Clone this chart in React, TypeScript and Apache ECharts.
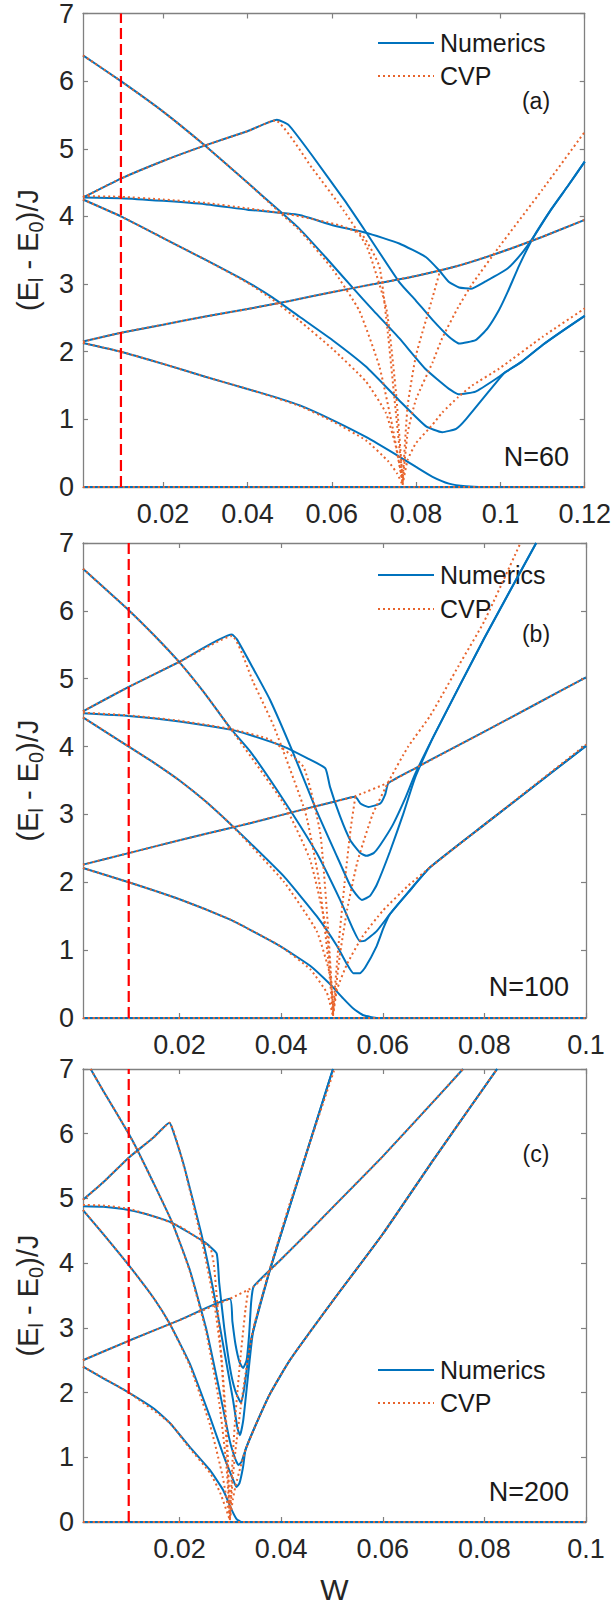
import React, { useEffect, useRef } from 'react';
import * as echarts from 'echarts';

// ---------- tick values ----------
const X_TICKS_A = [0.02, 0.04, 0.06, 0.08, 0.1, 0.12];
const X_TICKS_BC = [0.02, 0.04, 0.06, 0.08, 0.1];
const RED_W = 0.01;

// ---------- panel (a), N=60 : Numerics ----------
const A_E0 = [[0.001, 0], [0.12, 0]];
const A_E1 = [[0.001, 2.13], [0.01, 2.0], [0.02, 1.82], [0.03, 1.63], [0.04, 1.45], [0.046, 1.34], [0.0523, 1.21], [0.0602, 0.99], [0.0681, 0.74], [0.076, 0.45], [0.0799, 0.3], [0.0839, 0.15], [0.0878, 0.05], [0.0918, 0.01], [0.096, 0], [0.12, 0]];
const A_E2 = [[0.001, 2.15], [0.01, 2.28], [0.02, 2.4], [0.03, 2.52], [0.04, 2.63], [0.05, 2.75], [0.06, 2.88], [0.07, 3.0], [0.08, 3.12], [0.09, 3.27], [0.1, 3.47], [0.11, 3.7], [0.12, 3.95]];
const A_E3 = [[0.001, 4.28], [0.01, 4.56], [0.02, 4.82], [0.03, 5.05], [0.04, 5.26], [0.047, 5.43], [0.0498, 5.35], [0.055, 4.93], [0.063, 4.24], [0.0681, 3.77], [0.076, 3.03], [0.0799, 2.76], [0.0839, 2.47], [0.0878, 2.22], [0.0902, 2.12], [0.0941, 2.17], [0.097, 2.35], [0.0997, 2.62], [0.1017, 2.88], [0.1045, 3.28], [0.1078, 3.69], [0.112, 4.1], [0.116, 4.45], [0.12, 4.81]];
const A_E4 = [[0.001, 4.28], [0.01, 4.27], [0.02, 4.23], [0.03, 4.18], [0.04, 4.1], [0.0523, 4.02], [0.0602, 3.87], [0.0681, 3.76], [0.076, 3.6], [0.0823, 3.4], [0.0855, 3.2], [0.0878, 3.03], [0.0902, 2.95], [0.093, 2.93], [0.0965, 3.04], [0.1017, 3.23], [0.105, 3.45], [0.1078, 3.69], [0.112, 4.1], [0.116, 4.45], [0.12, 4.81]];
const A_E5 = [[0.001, 4.25], [0.01, 4.0], [0.02, 3.68], [0.03, 3.36], [0.04, 3.03], [0.046, 2.8], [0.0523, 2.52], [0.0602, 2.17], [0.0681, 1.78], [0.076, 1.28], [0.0823, 0.9], [0.0862, 0.81], [0.0895, 0.86], [0.0918, 1.0], [0.0997, 1.6], [0.101, 1.69], [0.105, 1.85], [0.11, 2.1], [0.115, 2.32], [0.12, 2.53]];
const A_E6 = [[0.001, 6.38], [0.01, 6.0], [0.02, 5.55], [0.0295, 5.07], [0.04, 4.5], [0.048, 4.06], [0.0523, 3.82], [0.0585, 3.4], [0.0649, 2.95], [0.07, 2.6], [0.076, 2.2], [0.0823, 1.74], [0.0878, 1.45], [0.0902, 1.37], [0.0941, 1.41], [0.0997, 1.63], [0.101, 1.69], [0.105, 1.85], [0.11, 2.1], [0.115, 2.32], [0.12, 2.53]];

// ---------- panel (a) : CVP ----------
const A_C0 = [[0.001, 0], [0.12, 0]];
const A_C1 = [[0.001, 2.13], [0.01, 2.0], [0.02, 1.82], [0.03, 1.63], [0.04, 1.45], [0.0523, 1.2], [0.0602, 0.97], [0.0681, 0.69], [0.0734, 0.38], [0.0755, 0.2], [0.0768, 0.03]];
const A_C2 = [[0.001, 2.15], [0.01, 2.28], [0.02, 2.4], [0.03, 2.52], [0.04, 2.63], [0.05, 2.75], [0.06, 2.88], [0.07, 3.0], [0.08, 3.12], [0.09, 3.27], [0.1, 3.47], [0.11, 3.7], [0.12, 3.95]];
const A_C3 = [[0.001, 4.28], [0.01, 4.56], [0.02, 4.82], [0.03, 5.05], [0.04, 5.26], [0.0466, 5.42], [0.0554, 4.71], [0.0628, 4.09], [0.0684, 3.54], [0.073, 2.62], [0.0753, 1.35], [0.0768, 0.1]];
const A_C4 = [[0.001, 4.3], [0.01, 4.29], [0.02, 4.25], [0.03, 4.2], [0.04, 4.12], [0.05, 4.03], [0.0618, 3.87], [0.0673, 3.72], [0.0713, 3.26], [0.0733, 2.28], [0.0749, 1.29], [0.0768, 0.12]];
const A_C5 = [[0.001, 4.25], [0.01, 4.0], [0.02, 3.68], [0.03, 3.36], [0.04, 3.02], [0.046, 2.77], [0.0523, 2.46], [0.0602, 2.04], [0.0681, 1.56], [0.0728, 1.1], [0.0752, 0.6], [0.0768, 0.06]];
const A_C6 = [[0.001, 6.38], [0.01, 6.0], [0.02, 5.55], [0.0295, 5.07], [0.04, 4.5], [0.048, 4.04], [0.0523, 3.8], [0.0602, 3.22], [0.0665, 2.61], [0.0713, 1.78], [0.0744, 0.89], [0.0768, 0.08]];
const A_CW1 = [[0.0768, 0.03], [0.078, 0.4], [0.08, 0.65], [0.0839, 0.92], [0.0862, 1.1], [0.09, 1.33], [0.0933, 1.5], [0.0997, 1.75], [0.11, 2.22], [0.12, 2.64]];
const A_CW2 = [[0.0768, 0.05], [0.078, 0.8], [0.08, 1.3], [0.0839, 1.84], [0.0862, 2.2], [0.09, 2.66], [0.0933, 3.0], [0.0997, 3.55], [0.11, 4.4], [0.12, 5.25]];
const A_CW3 = [[0.0768, 0.08], [0.078, 1.2], [0.08, 1.95], [0.0839, 2.8], [0.0857, 3.2]];

// ---------- panel (b), N=100 : Numerics ----------
const B_E0 = [[0.001, 0], [0.1, 0]];
const B_E1 = [[0.001, 2.21], [0.01, 2.0], [0.02, 1.75], [0.03, 1.45], [0.0339, 1.3], [0.0398, 1.06], [0.0457, 0.77], [0.0496, 0.5], [0.0522, 0.29], [0.0542, 0.14], [0.0562, 0.04], [0.059, 0], [0.1, 0]];
const B_E2 = [[0.001, 2.26], [0.01, 2.43], [0.02, 2.62], [0.03, 2.8], [0.0339, 2.87], [0.04, 2.99], [0.0457, 3.1], [0.05, 3.18], [0.0546, 3.26], [0.0556, 3.16], [0.0572, 3.11], [0.0595, 3.16], [0.0605, 3.3], [0.0611, 3.46], [0.0664, 3.68], [0.0693, 3.8], [0.08, 4.22], [0.09, 4.62], [0.1, 5.02]];
const B_E3 = [[0.001, 4.52], [0.01, 4.88], [0.02, 5.25], [0.0303, 5.65], [0.0313, 5.58], [0.0345, 5.15], [0.0378, 4.69], [0.0424, 3.9], [0.047, 3.05], [0.051, 2.38], [0.0536, 1.95], [0.0552, 1.78], [0.0559, 1.74], [0.0575, 1.8], [0.0588, 1.96], [0.0614, 2.45], [0.064, 3.0], [0.0664, 3.55], [0.07, 4.15], [0.08, 5.6], [0.0902, 7.0]];
const B_E4 = [[0.001, 4.49], [0.01, 4.45], [0.02, 4.37], [0.03, 4.25], [0.0339, 4.17], [0.0405, 4.0], [0.0451, 3.83], [0.0487, 3.68], [0.0496, 3.41], [0.0516, 2.97], [0.0536, 2.62], [0.0556, 2.43], [0.0568, 2.39], [0.0582, 2.43], [0.0595, 2.55], [0.062, 2.85], [0.0645, 3.25], [0.0664, 3.6], [0.07, 4.15], [0.08, 5.6], [0.0902, 7.0]];
const B_E5 = [[0.001, 4.43], [0.01, 4.0], [0.015, 3.76], [0.02, 3.5], [0.025, 3.2], [0.03, 2.86], [0.0339, 2.58], [0.0405, 2.09], [0.047, 1.5], [0.051, 1.06], [0.0529, 0.8], [0.0542, 0.66], [0.0555, 0.66], [0.0565, 0.74], [0.0588, 1.06], [0.0601, 1.32], [0.0614, 1.53], [0.065, 1.85], [0.0693, 2.22], [0.08, 2.85], [0.09, 3.43], [0.1, 4.01]];
const B_E6 = [[0.001, 6.62], [0.01, 6.01], [0.015, 5.64], [0.02, 5.24], [0.025, 4.78], [0.03, 4.27], [0.0339, 3.93], [0.0405, 3.21], [0.047, 2.43], [0.0516, 1.74], [0.0542, 1.3], [0.0555, 1.13], [0.0565, 1.14], [0.0588, 1.28], [0.0614, 1.53], [0.065, 1.85], [0.0693, 2.22], [0.08, 2.85], [0.09, 3.43], [0.1, 4.01]];

// ---------- panel (b) : CVP ----------
const B_C0 = [[0.001, 0], [0.1, 0]];
const B_C1 = [[0.001, 2.21], [0.01, 2.0], [0.02, 1.75], [0.03, 1.45], [0.0398, 1.06], [0.0457, 0.72], [0.049, 0.37], [0.0502, 0.03]];
const B_C2 = [[0.001, 2.26], [0.01, 2.43], [0.02, 2.62], [0.03, 2.8], [0.04, 2.99], [0.05, 3.18], [0.0546, 3.27], [0.0611, 3.47], [0.0664, 3.68], [0.08, 4.22], [0.09, 4.62], [0.1, 5.02]];
const B_C3 = [[0.001, 4.52], [0.01, 4.88], [0.02, 5.25], [0.0303, 5.63], [0.0345, 4.95], [0.0386, 4.29], [0.0448, 3.02], [0.0475, 2.0], [0.0492, 0.9], [0.0502, 0.05]];
const B_C4 = [[0.001, 4.5], [0.01, 4.46], [0.02, 4.38], [0.03, 4.26], [0.0378, 4.1], [0.0444, 3.7], [0.0477, 2.72], [0.0493, 1.25], [0.0502, 0.12]];
const B_C5 = [[0.001, 4.43], [0.01, 4.0], [0.015, 3.76], [0.02, 3.5], [0.025, 3.2], [0.03, 2.86], [0.0405, 2.01], [0.047, 1.28], [0.0496, 0.64], [0.0503, 0.1]];
const B_C6 = [[0.001, 6.62], [0.01, 6.01], [0.015, 5.64], [0.02, 5.24], [0.025, 4.78], [0.03, 4.27], [0.0405, 3.16], [0.0457, 2.33], [0.049, 1.25], [0.0502, 0.17]];
const B_CW1 = [[0.0502, 0.03], [0.051, 0.42], [0.053, 0.8], [0.056, 1.2], [0.06, 1.58], [0.065, 1.95], [0.0693, 2.22], [0.08, 2.85], [0.09, 3.44], [0.1, 4.03]];
const B_CW2 = [[0.0502, 0.05], [0.0515, 0.9], [0.053, 1.6], [0.055, 2.3], [0.058, 3.0], [0.0614, 3.52], [0.065, 4.0], [0.0693, 4.45], [0.075, 5.2], [0.08, 5.85], [0.0871, 7.0]];
const B_CW3 = [[0.0502, 0.08], [0.0512, 1.0], [0.0525, 2.0], [0.0537, 2.8], [0.0546, 3.26]];

// ---------- panel (c), N=200 : Numerics ----------
const C_E0 = [[0.001, 0], [0.1, 0]];
const C_E1 = [[0.001, 2.4], [0.005, 2.22], [0.01, 2.0], [0.015, 1.75], [0.0181, 1.53], [0.022, 1.16], [0.026, 0.8], [0.0286, 0.49], [0.0302, 0.2], [0.0312, 0.05], [0.0322, 0], [0.1, 0]];
const C_E2 = [[0.001, 2.5], [0.01, 2.8], [0.02, 3.12], [0.0299, 3.45], [0.0304, 3.1], [0.031, 2.75], [0.0318, 2.47], [0.0325, 2.38], [0.0332, 2.5], [0.0337, 2.9], [0.0341, 3.4], [0.0346, 3.64], [0.04, 4.06], [0.045, 4.45], [0.05, 4.85], [0.06, 5.65], [0.07, 6.5], [0.0758, 7.0]];
const C_E3 = [[0.001, 4.98], [0.005, 5.25], [0.01, 5.63], [0.015, 5.95], [0.018, 6.17], [0.0187, 6.05], [0.0209, 5.5], [0.0243, 4.45], [0.0266, 3.6], [0.0289, 2.6], [0.0305, 1.9], [0.0314, 1.45], [0.0319, 1.34], [0.0325, 1.55], [0.033, 1.9], [0.0338, 2.5], [0.0345, 2.95], [0.0378, 3.9], [0.0417, 4.88], [0.0502, 7.0]];
const C_E4 = [[0.001, 4.88], [0.005, 4.87], [0.01, 4.82], [0.015, 4.72], [0.0186, 4.62], [0.025, 4.32], [0.0273, 4.15], [0.0278, 3.7], [0.0288, 3.0], [0.03, 2.35], [0.031, 2.02], [0.0321, 1.84], [0.0327, 2.05], [0.0333, 2.4], [0.034, 2.8], [0.0345, 2.95], [0.0378, 3.9], [0.0417, 4.88], [0.0502, 7.0]];
const C_E5 = [[0.001, 4.82], [0.005, 4.45], [0.01, 3.97], [0.015, 3.45], [0.0181, 3.06], [0.022, 2.45], [0.026, 1.62], [0.0286, 1.04], [0.0305, 0.66], [0.0312, 0.54], [0.0318, 0.6], [0.0325, 0.85], [0.033, 1.12], [0.035, 1.5], [0.0378, 1.98], [0.0417, 2.5], [0.05, 3.4], [0.06, 4.45], [0.07, 5.6], [0.0825, 7.0]];
const C_E6 = [[0.0025, 7.0], [0.005, 6.66], [0.01, 6.0], [0.0117, 5.75], [0.015, 5.22], [0.0186, 4.62], [0.022, 3.9], [0.0252, 3.0], [0.0278, 2.05], [0.0299, 1.25], [0.031, 0.97], [0.0316, 0.88], [0.0322, 0.93], [0.033, 1.12], [0.035, 1.5], [0.0378, 1.98], [0.0417, 2.5], [0.05, 3.4], [0.06, 4.45], [0.07, 5.6], [0.0825, 7.0]];

// ---------- panel (c) : CVP ----------
const C_C0 = [[0.001, 0], [0.1, 0]];
const C_C1 = [[0.001, 2.4], [0.01, 2.0], [0.0181, 1.53], [0.022, 1.14], [0.026, 0.76], [0.028, 0.45], [0.0299, 0.03]];
const C_C2 = [[0.001, 2.5], [0.01, 2.8], [0.02, 3.12], [0.0299, 3.45], [0.0346, 3.64], [0.04, 4.06], [0.045, 4.45], [0.05, 4.85], [0.06, 5.65], [0.07, 6.5], [0.0758, 7.0]];
const C_C3 = [[0.001, 4.98], [0.005, 5.25], [0.01, 5.63], [0.015, 5.95], [0.018, 6.17], [0.021, 5.45], [0.0245, 4.3], [0.0268, 3.4], [0.0283, 2.5], [0.0293, 1.4], [0.0299, 0.1]];
const C_C4 = [[0.001, 4.9], [0.005, 4.89], [0.01, 4.84], [0.015, 4.72], [0.02, 4.57], [0.026, 4.24], [0.0268, 3.95], [0.0276, 3.2], [0.0286, 2.1], [0.0294, 1.0], [0.0299, 0.12]];
const C_C5 = [[0.001, 4.82], [0.005, 4.45], [0.01, 3.97], [0.015, 3.45], [0.0181, 3.06], [0.022, 2.42], [0.026, 1.5], [0.0285, 0.7], [0.0299, 0.05]];
const C_C6 = [[0.0025, 7.0], [0.005, 6.66], [0.01, 6.0], [0.015, 5.22], [0.0186, 4.62], [0.022, 3.88], [0.0252, 2.95], [0.0278, 1.85], [0.0292, 0.9], [0.0299, 0.08]];
const C_CW1 = [[0.0299, 0.03], [0.0305, 0.35], [0.031, 0.55], [0.032, 0.85], [0.033, 1.12], [0.035, 1.5], [0.0378, 1.98], [0.0417, 2.5], [0.05, 3.4], [0.06, 4.45], [0.07, 5.6], [0.0825, 7.0]];
const C_CW2 = [[0.0299, 0.05], [0.0305, 0.7], [0.031, 1.1], [0.032, 1.75], [0.033, 2.3], [0.0345, 2.98], [0.0378, 3.92], [0.0417, 4.92], [0.0505, 7.0]];
const C_CW3 = [[0.0299, 0.08], [0.0305, 1.05], [0.031, 1.65], [0.032, 2.55], [0.033, 3.3], [0.0336, 3.62]];

// ---------- labels ----------
const TAGS = ['(a)', '(b)', '(c)'];
const SIZES = ['N=60', 'N=100', 'N=200'];
const LEGEND_NAMES = ['Numerics', 'CVP'];

const FONT = '"Liberation Sans", Arial, Helvetica, sans-serif';
const TXT = '#262626';
const AX = '#808080';
const BLUE = '#0072BD';
const ORANGE = '#E8642C';
const RED = '#FF0000';

const PANELS = [
  { top: 13, height: 474, xMax: 0.12, ticks: X_TICKS_A, blue: [A_E0, A_E1, A_E2, A_E3, A_E4, A_E5, A_E6], cvp: [A_C0, A_C1, A_C2, A_C3, A_C4, A_C5, A_C6, A_CW1, A_CW2, A_CW3], legY: [43, 76], tagY: 101, nY: 457 },
  { top: 543, height: 475, xMax: 0.1, ticks: X_TICKS_BC, blue: [B_E0, B_E1, B_E2, B_E3, B_E4, B_E5, B_E6], cvp: [B_C0, B_C1, B_C2, B_C3, B_C4, B_C5, B_C6, B_CW1, B_CW2, B_CW3], legY: [575, 609], tagY: 634, nY: 987 },
  { top: 1069, height: 453, xMax: 0.1, ticks: X_TICKS_BC, blue: [C_E0, C_E1, C_E2, C_E3, C_E4, C_E5, C_E6], cvp: [C_C0, C_C1, C_C2, C_C3, C_C4, C_C5, C_C6, C_CW1, C_CW2, C_CW3], legY: [1370, 1403], tagY: 1154, nY: 1492 },
];

const LEFT = 83;
const WIDTH = 503;

// y-axis title pieces: [text, isSubscript]
const Y_NAME_PARTS: [string, boolean][] = [['(E', false], ['l', true], [' - E', false], ['0', true], [')/J', false]];
const MAIN_FS = 29;
const SUB_FS = 20;

function textWidth(s: string, fs: number) {
  const w: Record<string, number> = { '(': 0.333, ')': 0.333, E: 0.667, l: 0.222, ' ': 0.278, '-': 0.333, '0': 0.556, '/': 0.278, J: 0.5 };
  let t = 0;
  for (const ch of s) t += (w[ch] ?? 0.55) * fs;
  return t;
}

function yNameGroup(cx: number, cy: number) {
  const parts = Y_NAME_PARTS.map(([t, sub]) => ({ t, sub, w: textWidth(t, sub ? SUB_FS : MAIN_FS) }));
  const total = parts.reduce((a, p) => a + p.w, 0);
  let x = -total / 2;
  const children: any[] = [];
  parts.forEach((p) => {
    children.push({
      type: 'text', x, y: p.sub ? 8 : 0,
      style: { text: p.t, fontSize: p.sub ? SUB_FS : MAIN_FS, fill: TXT, fontFamily: FONT, align: 'left', verticalAlign: 'middle' },
    });
    x += p.w;
  });
  return { type: 'group', x: cx, y: cy, rotation: Math.PI / 2, children };
}

function buildOption() {
  const grid: any[] = [];
  const xAxis: any[] = [];
  const yAxis: any[] = [];
  const series: any[] = [];
  const graphic: any[] = [];

  const axisLine = { show: true, onZero: false, lineStyle: { color: AX, width: 1.3 } };

  PANELS.forEach((p, i) => {
    grid.push({ left: LEFT, width: WIDTH, top: p.top, height: p.height, containLabel: false });
    const xBase = {
      gridIndex: i, type: 'value', min: 0.001, max: p.xMax,
      axisLine, splitLine: { show: false },
      axisTick: { show: true, inside: true, length: 5, customValues: p.ticks, lineStyle: { color: AX, width: 1.2 } },
    };
    xAxis.push({ ...xBase, position: 'bottom', axisLabel: { customValues: p.ticks, fontSize: 27, color: TXT, fontFamily: FONT, margin: 13 } });
    xAxis.push({ ...xBase, position: 'top', axisLabel: { show: false } });
    const yBase = {
      gridIndex: i, type: 'value', min: 0, max: 7, interval: 1,
      axisLine, splitLine: { show: false },
      axisTick: { show: true, inside: true, length: 5, lineStyle: { color: AX, width: 1.2 } },
    };
    yAxis.push({ ...yBase, position: 'left', axisLabel: { fontSize: 27, color: TXT, fontFamily: FONT, margin: 9 } });
    yAxis.push({ ...yBase, position: 'right', axisLabel: { show: false } });

    p.blue.forEach((d) => {
      series.push({
        type: 'line', xAxisIndex: 2 * i, yAxisIndex: 2 * i, data: d, symbol: 'none', showSymbol: false,
        smooth: 0.15, silent: true, z: 2, lineStyle: { color: BLUE, width: 2 },
      });
    });
    p.cvp.forEach((d) => {
      series.push({
        type: 'line', xAxisIndex: 2 * i, yAxisIndex: 2 * i, data: d, symbol: 'none', showSymbol: false,
        smooth: 0.15, silent: true, z: 3, lineStyle: { color: ORANGE, width: 2, type: [2, 3] },
      });
    });
    series.push({
      type: 'line', xAxisIndex: 2 * i, yAxisIndex: 2 * i, data: [[RED_W, 0], [RED_W, 7]], symbol: 'none',
      silent: true, z: 4, lineStyle: { color: RED, width: 2.2, type: [11, 5] },
    });

    // legend
    graphic.push({ type: 'line', shape: { x1: 378, y1: p.legY[0], x2: 434, y2: p.legY[0] }, style: { stroke: BLUE, lineWidth: 2 } });
    graphic.push({ type: 'line', shape: { x1: 378, y1: p.legY[1], x2: 434, y2: p.legY[1] }, style: { stroke: ORANGE, lineWidth: 2, lineDash: [2, 3] } });
    graphic.push({ type: 'text', x: 440, y: p.legY[0], style: { text: LEGEND_NAMES[0], fontSize: 25, fill: '#1a1a1a', fontFamily: FONT, align: 'left', verticalAlign: 'middle' } });
    graphic.push({ type: 'text', x: 440, y: p.legY[1], style: { text: LEGEND_NAMES[1], fontSize: 25, fill: '#1a1a1a', fontFamily: FONT, align: 'left', verticalAlign: 'middle' } });
    // tags
    graphic.push({ type: 'text', x: 536, y: p.tagY, style: { text: TAGS[i], fontSize: 23, fill: '#1a1a1a', fontFamily: FONT, align: 'center', verticalAlign: 'middle' } });
    graphic.push({ type: 'text', x: 569, y: p.nY, style: { text: SIZES[i], fontSize: 27, fill: '#1a1a1a', fontFamily: FONT, align: 'right', verticalAlign: 'middle' } });
    // y axis name
    graphic.push(yNameGroup(28, p.top + p.height / 2));
  });

  graphic.push({ type: 'text', x: 334.5, y: 1589, style: { text: 'W', fontSize: 30, fill: TXT, fontFamily: FONT, align: 'center', verticalAlign: 'middle' } });

  return { animation: false, backgroundColor: '#ffffff', grid, xAxis, yAxis, series, graphic };
}

export default function App() {
  const ref = useRef<HTMLDivElement>(null);
  useEffect(() => {
    if (!ref.current) return;
    const chart = echarts.init(ref.current, null, { renderer: 'svg' });
    chart.setOption(buildOption() as any);
    return () => chart.dispose();
  }, []);
  return (
    <div
      ref={ref}
      style={{ position: 'absolute', left: 0, top: 0, width: 614, height: 1604, background: '#fff' }}
    />
  );
}
